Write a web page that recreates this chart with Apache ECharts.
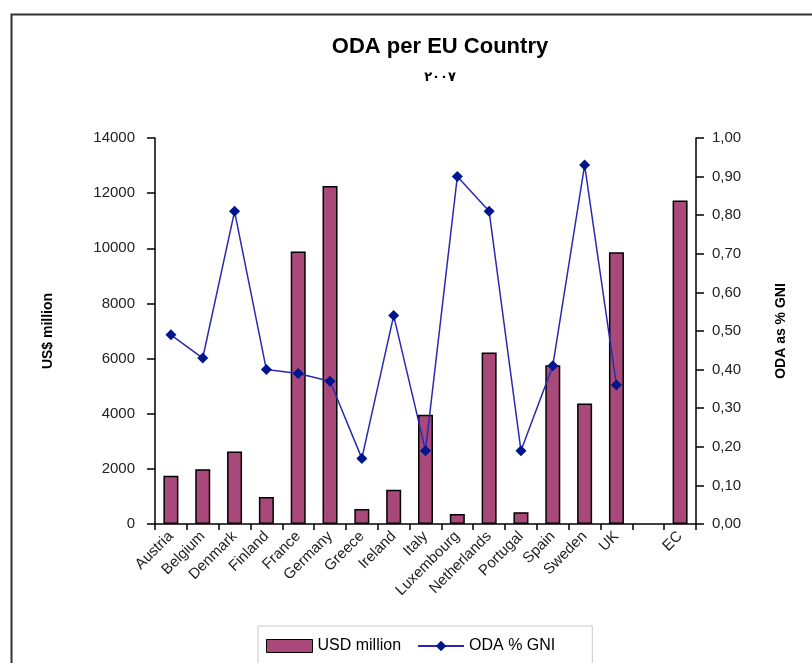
<!DOCTYPE html>
<html>
<head>
<meta charset="utf-8">
<script src="https://cdn.jsdelivr.net/npm/echarts@6/dist/echarts.min.js"></script>
<style>
html,body{margin:0;padding:0;background:#fff;}
#chart{width:812px;height:663px;}
</style>
</head>
<body>
<div id="chart"></div>
<script>
var categories = ['Austria','Belgium','Denmark','Finland','France','Germany','Greece','Ireland','Italy','Luxembourg','Netherlands','Portugal','Spain','Sweden','UK','','EC'];
var usdMillion = [1750, 1990, 2630, 980, 9880, 12260, 540, 1240, 3960, 360, 6220, 430, 5760, 4370, 9860, null, 11730];
var odaPctGni = [0.49, 0.43, 0.81, 0.40, 0.39, 0.37, 0.17, 0.54, 0.19, 0.90, 0.81, 0.19, 0.41, 0.93, 0.36, null, null];
var leftTicks = {min: 0, max: 14000, interval: 2000};
var rightTicks = {min: 0, max: 1, interval: 0.1};

var FONT = '"Liberation Sans", Arial, sans-serif';
var chart = echarts.init(document.getElementById('chart'));
chart.setOption({
  backgroundColor: '#fff',
  animation: false,
  graphic: [{
    type: 'rect', left: 9, top: 12, shape: {width: 830, height: 700},
    style: {fill: 'none', stroke: '#333', lineWidth: 2}
  }],
  title: {
    text: 'ODA per EU Country',
    subtext: '٢٠٠٧',
    left: 435, textAlign: 'center', top: 31,
    itemGap: 11,
    textStyle: {fontFamily: FONT, fontSize: 22, fontWeight: 'bold', color: '#000'},
    subtextStyle: {fontFamily: '"DejaVu Sans", sans-serif', fontSize: 13, fontWeight: 'bold', color: '#000', lineHeight: 18}
  },
  legend: {
    left: 258, top: 626,
    padding: [12, 37, 12, 8],
    borderColor: '#c8c8c8', borderWidth: 1,
    itemGap: 16,
    textStyle: {fontFamily: FONT, fontSize: 16, color: '#000'},
    data: [
      {name: 'USD million', icon: 'rect', itemStyle: {borderColor: '#000', borderWidth: 1}},
      {name: 'ODA % GNI'}
    ],
    itemWidth: 46, itemHeight: 13
  },
  grid: {left: 155, right: 116, top: 138, bottom: 139, containLabel: false},
  xAxis: {
    type: 'category', data: categories,
    axisLine: {lineStyle: {color: '#000', width: 1.5}},
    axisTick: {show: true, length: 6, lineStyle: {color: '#000', width: 1.5}},
    axisLabel: {rotate: 45, fontFamily: FONT, fontSize: 15, color: '#222', margin: 10, interval: 0}
  },
  yAxis: [{
    type: 'value', min: leftTicks.min, max: leftTicks.max, interval: leftTicks.interval,
    name: 'US$ million', nameLocation: 'middle', nameRotate: 90, nameGap: 100,
    nameTextStyle: {fontFamily: FONT, fontSize: 14, fontWeight: 'bold', color: '#000'},
    axisLine: {show: true, lineStyle: {color: '#000', width: 1.5}},
    axisTick: {show: true, length: 8, lineStyle: {color: '#000', width: 1.5}},
    axisLabel: {fontFamily: FONT, fontSize: 15, color: '#222', margin: 20,
      formatter: function (v) { return String(v); }},
    splitLine: {show: false}
  }, {
    type: 'value', min: rightTicks.min, max: rightTicks.max, interval: rightTicks.interval,
    position: 'right',
    name: 'ODA as % GNI', nameLocation: 'middle', nameRotate: 90, nameGap: 78,
    nameTextStyle: {fontFamily: FONT, fontSize: 14, fontWeight: 'bold', color: '#000'},
    axisLine: {show: true, lineStyle: {color: '#000', width: 1.5}},
    axisTick: {show: true, length: 8, lineStyle: {color: '#000', width: 1.5}},
    axisLabel: {fontFamily: FONT, fontSize: 15, color: '#222', margin: 16,
      formatter: function (v) { return v.toFixed(2).replace('.', ','); }},
    splitLine: {show: false}
  }],
  series: [{
    name: 'USD million', type: 'bar', yAxisIndex: 0, data: usdMillion,
    barWidth: 15,
    itemStyle: {color: '#a9497a', borderColor: '#000', borderWidth: 1.5}
  }, {
    name: 'ODA % GNI', type: 'line', yAxisIndex: 1, data: odaPctGni,
    symbol: 'diamond', symbolSize: 11, showAllSymbol: true,
    lineStyle: {color: '#2a2ab0', width: 1.5},
    itemStyle: {color: '#00158c'}
  }]
});
</script>
</body>
</html>
